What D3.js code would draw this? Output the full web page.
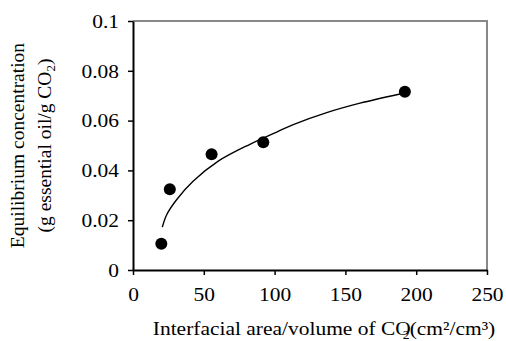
<!DOCTYPE html>
<html>
<head>
<meta charset="utf-8">
<script src="https://cdn.jsdelivr.net/npm/d3@7"></script>
<style>
  body { margin: 0; background: #fff; }
  text { font-family: "Liberation Serif", "Times New Roman", serif !important; fill: #000; }
</style>
</head>
<body>
<svg id="main"></svg>
<script>
  // measured points
  var areaX = [20, 26, 55.5, 92, 192];
  var concY = [0.0105, 0.0324, 0.0465, 0.0513, 0.0716];

  // trend curve
  var trendX = [20.7, 23.8, 30.9, 42.6, 60.2, 82.6, 101.5, 113.2, 136.8, 160.3, 188.6];
  var trendY = [0.0172, 0.0222, 0.0283, 0.0357, 0.0437, 0.0505, 0.0554, 0.0584, 0.0632, 0.0670, 0.0707];

  var xTicks = [0, 50, 100, 150, 200, 250];
  var yTicks = [0, 0.02, 0.04, 0.06, 0.08, 0.1];
  var yTickLabels = ["0", "0.02", "0.04", "0.06", "0.08", "0.1"];

  var w = 506;
  var h = 341;
  var padLeft = 133, padRight = 487, padTop = 21, padBottom = 270;
  var stretch = 1.13;

  var svg = d3.select("#main")
    .attr("width", w)
    .attr("height", h);

  var xScale = d3.scaleLinear().domain([0, 250]).range([padLeft, padRight]);
  var yScale = d3.scaleLinear().domain([0, 0.1]).range([padBottom, padTop]);

  // gray frame on top and right
  svg.append("path")
    .attr("d", "M" + padLeft + "," + padTop + "H" + padRight + "V" + padBottom)
    .attr("fill", "none")
    .attr("stroke", "#888")
    .attr("stroke-width", 2);

  var xAxis = d3.axisBottom(xScale)
    .tickValues(xTicks)
    .tickSize(5)
    .tickSizeOuter(0);

  var yAxis = d3.axisLeft(yScale)
    .tickValues(yTicks)
    .tickFormat(function(d, i) { return yTickLabels[i]; })
    .tickSize(5)
    .tickSizeOuter(0);

  var gx = svg.append("g")
    .attr("transform", "translate(0," + padBottom + ")")
    .call(xAxis)
    .attr("font-family", null);
  gx.select(".domain").attr("stroke", "#000").attr("stroke-width", 2);
  gx.selectAll(".tick line").attr("stroke", "#000").attr("stroke-width", 1.5);
  gx.selectAll(".tick text")
    .attr("y", 18)
    .attr("dy", "0.71em")
    .attr("font-size", 19)
    .attr("transform", "scale(" + stretch + ",1)");

  var gy = svg.append("g")
    .attr("transform", "translate(" + padLeft + ",0)")
    .call(yAxis)
    .attr("font-family", null);
  gy.select(".domain").attr("stroke", "#000").attr("stroke-width", 2);
  gy.selectAll(".tick line").attr("stroke", "#000").attr("stroke-width", 1.5);
  gy.selectAll(".tick text")
    .attr("x", -12.4)
    .attr("dy", "0.33em")
    .attr("font-size", 19)
    .attr("transform", "scale(" + stretch + ",1)");

  // trend line
  var trend = trendX.map(function(x, i) { return [x, trendY[i]]; });
  var line = d3.line()
    .x(function(d) { return xScale(d[0]); })
    .y(function(d) { return yScale(d[1]); })
    .curve(d3.curveCatmullRom.alpha(0.5));

  svg.append("path")
    .datum(trend)
    .attr("d", line)
    .attr("fill", "none")
    .attr("stroke", "#000")
    .attr("stroke-width", 1.4);

  // points
  svg.selectAll("circle")
    .data(areaX)
    .enter()
    .append("circle")
    .attr("cx", function(d) { return xScale(d); })
    .attr("cy", function(d, i) { return yScale(concY[i]); })
    .attr("r", 6)
    .attr("fill", "#000");

  // x axis title
  var xt = svg.append("text")
    .attr("transform", "translate(" + 324 + ",335) scale(" + stretch + ",1)")
    .attr("text-anchor", "middle")
    .attr("font-size", 19);
  xt.append("tspan").text("Interfacial area/volume of CO");
  xt.append("tspan").attr("dx", -7).attr("dy", 4).attr("font-size", 12).text("2");
  xt.append("tspan").attr("dy", -4).text("(cm\u00b2/cm\u00b3)");

  // y axis title, two lines
  var yt = svg.append("g")
    .attr("transform", "translate(0," + ((padTop + padBottom) / 2) + ") rotate(-90)");
  yt.append("text")
    .attr("x", 0)
    .attr("y", 24)
    .attr("text-anchor", "middle")
    .attr("font-size", 19.5)
    .text("Equilibrium concentration");
  var yt2 = yt.append("text")
    .attr("x", 0)
    .attr("y", 51)
    .attr("text-anchor", "middle")
    .attr("font-size", 19.5);
  yt2.append("tspan").text("(g essential oil/g CO");
  yt2.append("tspan").attr("dy", 4).attr("font-size", 13).text("2");
  yt2.append("tspan").attr("dy", -4).text(")");
</script>
</body>
</html>
